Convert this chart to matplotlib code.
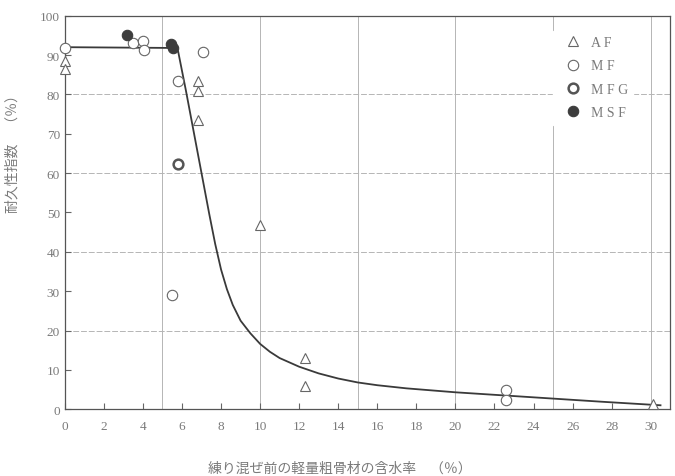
import matplotlib
matplotlib.use("Agg")
import matplotlib.pyplot as plt

# 耐久性指数 vs 含水率 data
af_x = [0.0, 0.0, 6.8, 6.8, 6.8, 10.0, 12.3, 12.3, 30.1]
af_y = [88.5, 86.5, 83.4, 80.9, 73.6, 46.8, 13.0, 6.0, 1.2]

mf_x = [0.0, 3.5, 4.0, 4.05, 7.1, 5.8, 5.5, 22.6, 22.6]
mf_y = [91.9, 93.0, 93.5, 91.2, 90.9, 83.4, 29.0, 5.0, 2.3]

mfg_x = [5.8]
mfg_y = [62.2]

msf_x = [3.2, 5.45, 5.55]
msf_y = [95.0, 92.8, 91.9]

# fitted curve, read point by point
curve_x = [0, 5.6, 5.8, 6.2, 6.6, 7.0, 7.4, 7.7, 8.0, 8.3, 8.6, 9.0, 9.5,
           10, 10.5, 11, 12, 13, 14, 15, 16, 17.5, 20, 22.5, 25, 27.5, 30.5]
curve_y = [92, 91.8, 91, 81, 70.5, 60, 49.5, 42, 35.5, 30.5, 26.5, 22.5,
           19.3, 16.6, 14.6, 13.0, 10.8, 9.1, 7.8, 6.8, 6.1, 5.3, 4.3, 3.5,
           2.7, 1.9, 1.0]

xticks = list(range(0, 31, 2))
yticks = list(range(0, 101, 10))

txt = "#7a7a7a"
plt.rcParams["font.family"] = ["Liberation Serif", "DejaVu Serif"]

fig = plt.figure(figsize=(6.75, 4.77), dpi=100)
ax = fig.add_axes([0.096, 0.14, 0.897, 0.825])

for gx in [5, 10, 15, 20, 25, 30]:
    ax.axvline(gx, color="#b5b5b5", lw=0.7, zorder=0)
for gy in [20, 40, 60, 80]:
    ax.axhline(gy, color="#b5b5b5", lw=0.7, ls=(0, (6, 2)), zorder=0)

ax.plot(curve_x, curve_y, color="#3a3a3a", lw=1.3, zorder=2)

mk = dict(ls="none", zorder=3, clip_on=False)
ax.plot(af_x, af_y, marker="^", ms=7.5, mfc="white", mec="#666666",
        mew=0.8, label="A F", **mk)
ax.plot(mf_x, mf_y, marker="o", ms=7.5, mfc="white", mec="#666666",
        mew=0.8, label="M F", **mk)
ax.plot(mfg_x, mfg_y, marker="o", ms=7, mfc="white", mec="#555555",
        mew=1.8, label="M F G", **mk)
ax.plot(msf_x, msf_y, marker="o", ms=7.5, mfc="#3d3d3d", mec="#3d3d3d",
        mew=0.8, label="M S F", **mk)

ax.set_xlim(0, 31)
ax.set_ylim(0, 100)
ax.set_xticks(xticks)
ax.set_yticks(yticks)
ax.tick_params(direction="in", length=4, color="#666666", labelcolor=txt,
               labelsize=9.5)
ax.tick_params(axis="x", pad=8)
for s in ax.spines.values():
    s.set_color("#555555")
    s.set_linewidth(0.9)

leg = ax.legend(loc="upper left", bbox_to_anchor=(0.795, 0.98), frameon=True,
                fancybox=False, edgecolor="white", facecolor="white",
                framealpha=1, fontsize=10, handletextpad=0.3,
                labelspacing=0.75, borderpad=0.4)
for t in leg.get_texts():
    t.set_color(txt)

jp = ["Noto Sans CJK JP", "DejaVu Sans"]
ax.set_ylabel("耐久性指数　（％）", family=jp, color=txt, fontsize=10)
ax.yaxis.set_label_coords(-0.075, 0.66)
ax.set_xlabel("練り混ぜ前の軽量粗骨材の含水率　（％）", family=jp, color=txt,
              fontsize=10)
ax.xaxis.set_label_coords(0.455, -0.13)

fig.savefig("out.png", dpi=100)
